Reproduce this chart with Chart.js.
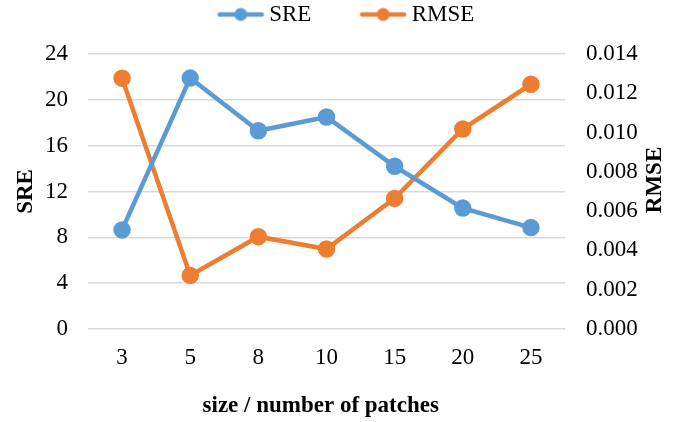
<!DOCTYPE html>
<html>
<head>
<meta charset="utf-8">
<script src="https://cdn.jsdelivr.net/npm/chart.js@4"></script>
<style>
  html, body { margin: 0; padding: 0; background: #fff; }
  #wrap { width: 675px; height: 422px; }
</style>
</head>
<body>
<div id="wrap"><canvas id="chart" width="675" height="422"></canvas></div>
<script>
const categories = ["3", "5", "8", "10", "15", "20", "25"];
const sreValues = [8.65, 21.9, 17.3, 18.5, 14.2, 10.55, 8.85];
const rmseValues = [0.01277, 0.00273, 0.0047, 0.00407, 0.00665, 0.01018, 0.01246];

const blue = "#5B9BD5";
const orange = "#ED7D31";
const grid = "#d9d9d9";
const font = "'Liberation Serif', 'Times New Roman', serif";

// leading spaces on the first legend label, used to nudge the legend to the right
const lead = "    ";
const measure = document.createElement("canvas").getContext("2d");
measure.font = "23px " + font;
const leadWidth = measure.measureText(lead).width;

// legend marker: a short line with a dot on it (pad = empty room on the left)
function marker(colour, pad) {
    const c = document.createElement("canvas");
    c.width = 48 + 2 * pad;
    c.height = 16;
    const ctx = c.getContext("2d");
    const x0 = 2 * pad;
    ctx.strokeStyle = colour;
    ctx.lineWidth = 4.5;
    ctx.lineCap = "round";
    ctx.beginPath();
    ctx.moveTo(x0 + 3, 8);
    ctx.lineTo(x0 + 45, 8);
    ctx.stroke();
    ctx.fillStyle = colour;
    ctx.beginPath();
    ctx.arc(x0 + 24, 8, 6.5, 0, Math.PI * 2);
    ctx.fill();
    return c;
}

// keep the legend box tall enough so the plot starts where the original does
const legendHeight = {
    id: "legendHeight",
    beforeInit(chart) {
        const fit = chart.legend.fit;
        chart.legend.fit = function () {
            fit.bind(chart.legend)();
            this.height = 54;
        };
    }
};

// right axis title reads bottom-to-top like the left one
const rightTitle = {
    id: "rightTitle",
    afterDraw(chart) {
        const ctx = chart.ctx;
        ctx.save();
        ctx.translate(655, 180);
        ctx.rotate(-Math.PI / 2);
        ctx.font = "bold 23px " + font;
        ctx.fillStyle = "#000";
        ctx.textAlign = "center";
        ctx.textBaseline = "middle";
        ctx.fillText("RMSE", 0, 0);
        ctx.restore();
    }
};

const data = {
    labels: categories,
    datasets: [{
        label: "SRE",
        data: sreValues,
        yAxisID: "y",
        borderColor: blue,
        backgroundColor: blue,
        borderWidth: 4.5,
        pointRadius: 6.5,
        pointHoverRadius: 6.5,
        tension: 0
    }, {
        label: "RMSE",
        data: rmseValues,
        yAxisID: "y2",
        borderColor: orange,
        backgroundColor: orange,
        borderWidth: 4.5,
        pointRadius: 6.5,
        pointHoverRadius: 6.5,
        tension: 0
    }]
};

const tickFont = {family: font, size: 23};

const config = {
    type: "line",
    data: data,
    plugins: [legendHeight, rightTitle],
    options: {
        responsive: false,
        animation: false,
        layout: {padding: 0},
        plugins: {
            legend: {
                position: "top",
                labels: {
                    font: {family: font, size: 23},
                    color: "#000",
                    usePointStyle: true,
                    pointStyleWidth: 34,
                    padding: 3,
                    generateLabels: (chart) => chart.data.datasets.map((ds, i) => ({
                        text: i === 0 ? lead + ds.label + "         " : ds.label,
                        pointStyle: marker(ds.borderColor, i === 0 ? leadWidth : 0),
                        fillStyle: ds.borderColor,
                        strokeStyle: ds.borderColor,
                        lineWidth: 0,
                        datasetIndex: i,
                        hidden: false
                    }))
                }
            },
            tooltip: {enabled: false}
        },
        scales: {
            x: {
                offset: true,
                grid: {display: false, drawTicks: false},
                border: {display: false},
                ticks: {font: tickFont, color: "#000", padding: 15},
                title: {display: true, text: "size / number of patches  ",
                    font: {family: font, size: 23, weight: "bold"}, color: "#000",
                    padding: {top: 0, bottom: 2}},
                afterFit: (s) => { s.height = 93; }
            },
            y: {
                position: "left",
                min: 0,
                max: 24,
                ticks: {stepSize: 4, font: tickFont, color: "#000", padding: 20},
                grid: {color: grid, lineWidth: 1.4, drawTicks: false},
                border: {display: false},
                title: {display: true, text: "SRE",
                    font: {family: font, size: 23, weight: "bold"}, color: "#000",
                    padding: {top: 12, bottom: 0}},
                afterFit: (s) => { s.width = 88; }
            },
            y2: {
                position: "right",
                min: 0,
                max: 0.014,
                ticks: {stepSize: 0.002, font: tickFont, color: "#000", padding: 21,
                    callback: (v) => v.toFixed(3)},
                grid: {display: false, drawTicks: false},
                border: {display: false},
                afterFit: (s) => { s.width = 110; }
            }
        }
    }
};

new Chart(document.getElementById("chart"), config);
</script>
</body>
</html>
